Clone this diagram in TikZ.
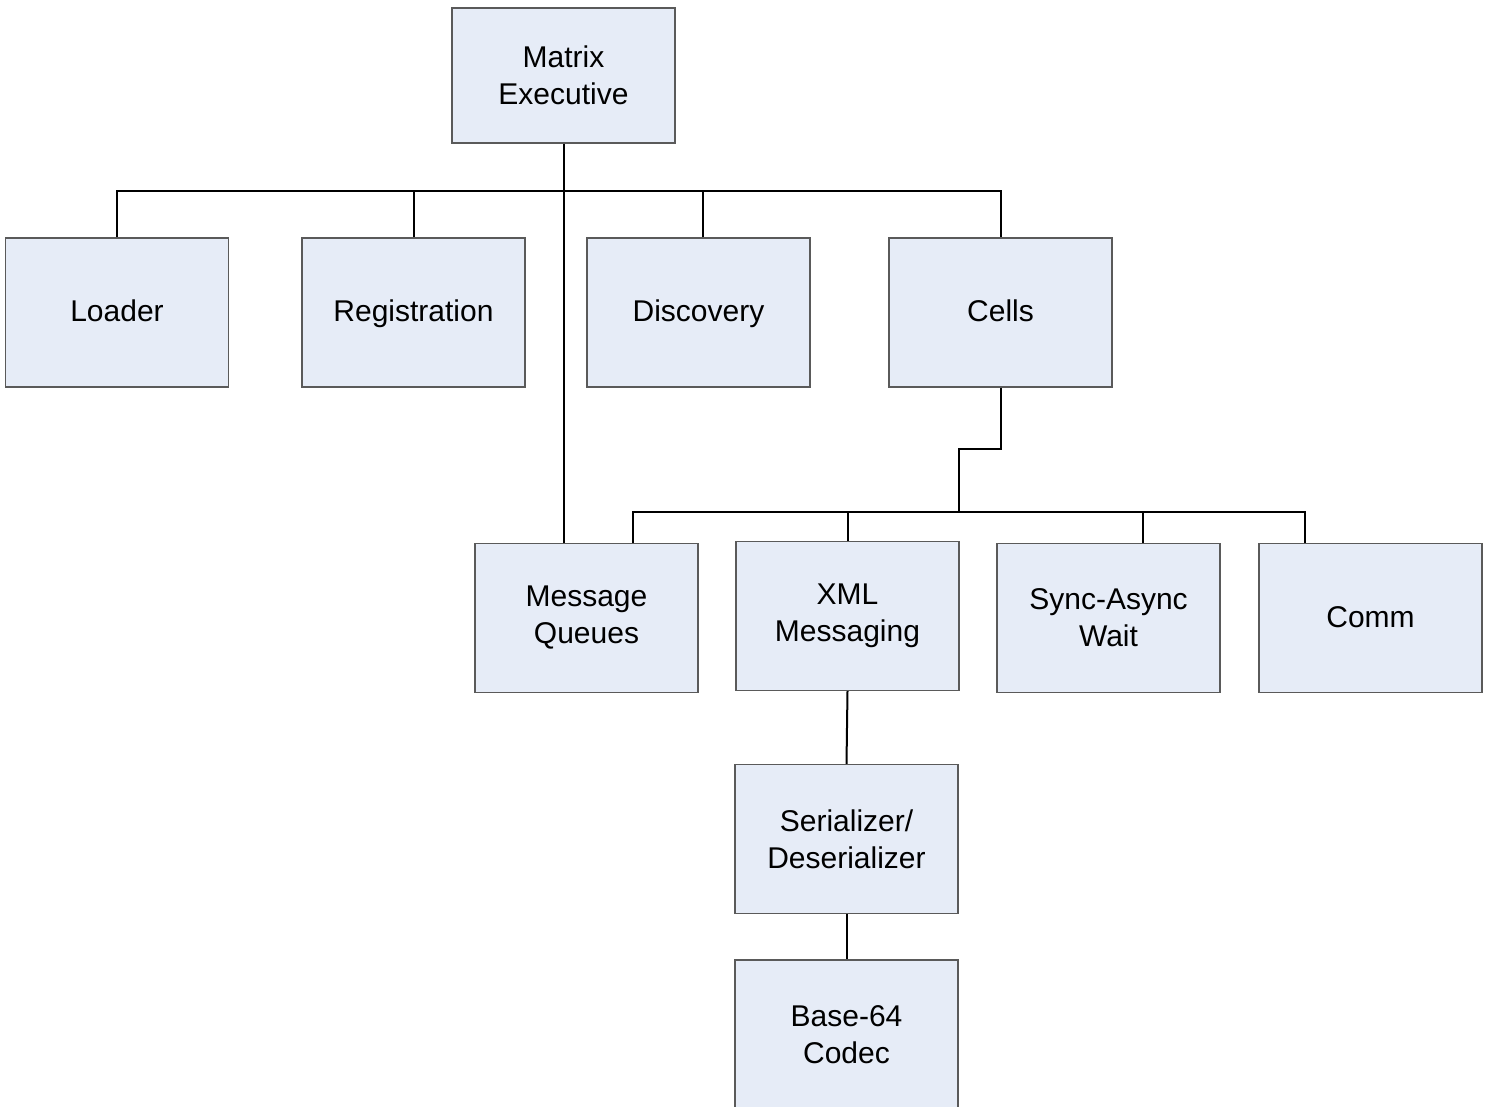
\documentclass[tikz,border=0pt]{standalone}
\usepackage{fontspec}
\setmainfont{Liberation Sans}
\definecolor{boxfill}{HTML}{E6ECF7}
\definecolor{boxline}{HTML}{5A5A5A}
\begin{document}
\begin{tikzpicture}[x=0.5pt,y=-0.5pt,
  unit/.style={rectangle, draw=boxline, line width=0.6pt, fill=boxfill,
    minimum width=111.5pt, minimum height=74.5pt, inner sep=0pt,
    align=center, font=\fontsize{15}{18.5}\selectfont},
  oneline/.style={unit, text height=11pt, text depth=2pt},
  link/.style={draw=black, line width=1pt}]
\useasboundingbox (0,0) rectangle (1489,1107);
\begin{scope}
\clip (0,0) rectangle (1489,1107);

% top level
\node[unit, minimum height=67.5pt] (mx) at (563.5,75.5) {Matrix\\Executive};

% second level
\node[oneline] (loader) at (117,312.5)   {Loader};
\node[oneline] (reg)    at (413.5,312.5) {Registration};
\node[oneline] (disc)   at (698.5,312.5) {Discovery};
\node[oneline] (cells)  at (1000.5,312.5) {Cells};

% third level
\node[unit] (mq)   at (586.5,618)  {Message\\Queues};
\node[unit] (xml)  at (847.5,616)  {XML\\Messaging};
\node[unit] (sync) at (1108.5,618) {Sync-Async\\Wait};
\node[oneline] (comm) at (1370.5,618) {Comm};

% serialization chain
\node[unit] (ser) at (846.5,839)  {Serializer/\\Deserializer};
\node[unit, minimum height=75pt] (b64) at (846.5,1035) {Base-64\\Codec};

% bus lines
\coordinate (busA) at (0,191);
\coordinate (busB) at (0,512);
\coordinate (jog)  at (959,449);

% executive to its children
\draw[link] (mx.south) -- (mx.south |- mq.north);
\draw[link] (loader.north) -- (loader.north |- busA) -| (cells.north);
\draw[link] (reg.north) -- (reg.north |- busA);
\draw[link] ([xshift=2.25pt]disc.north) -- ([xshift=2.25pt]disc.north |- busA);

% cells to its children
\draw[link] (cells.south) |- (jog) -- (jog |- busB);
\draw[link] ([xshift=23.25pt]mq.north) -- ([xshift=23.25pt]mq.north |- busB)
  -| ([xshift=-32.75pt]comm.north);
\draw[link] (xml.north) -- (xml.north |- busB);
\draw[link] ([xshift=17.25pt]sync.north) -- ([xshift=17.25pt]sync.north |- busB);

% messaging chain
\draw[link] (xml.south) -- (ser.north);
\draw[link] (ser.south) -- (b64.north);
\end{scope}
\end{tikzpicture}
\end{document}
